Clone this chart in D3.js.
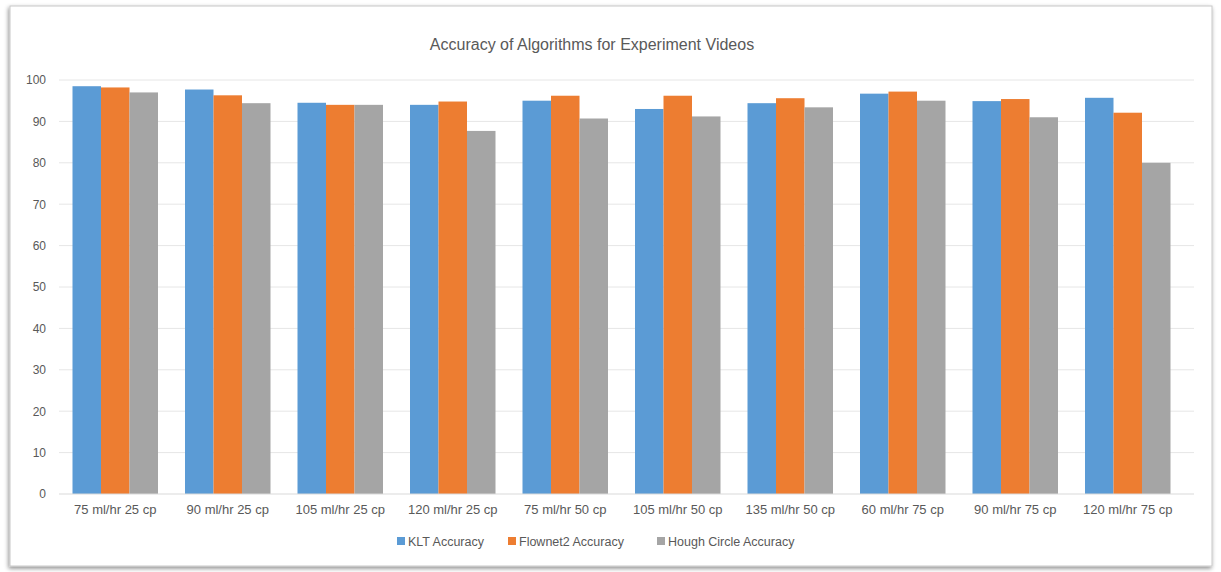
<!DOCTYPE html>
<html>
<head>
<meta charset="utf-8">
<script src="https://cdn.jsdelivr.net/npm/d3@7"></script>
<style>
  body { margin: 0; background: #ffffff; }
  svg text { font-family: "Liberation Sans", Arial, sans-serif; }
</style>
</head>
<body>
<svg id="chart" width="1221" height="572"></svg>
<script>
// Data
const categories = [
  "75 ml/hr 25 cp", "90 ml/hr 25 cp", "105 ml/hr 25 cp", "120 ml/hr 25 cp",
  "75 ml/hr 50 cp", "105 ml/hr 50 cp", "135 ml/hr 50 cp", "60 ml/hr 75 cp",
  "90 ml/hr 75 cp", "120 ml/hr 75 cp"
];
const seriesNames = ["KLT Accuracy", "Flownet2 Accuracy", "Hough Circle Accuracy"];
const kltValues      = [98.5, 97.7, 94.5, 94.0, 95.0, 93.0, 94.4, 96.7, 94.9, 95.7];
const flownetValues  = [98.2, 96.3, 94.0, 94.8, 96.2, 96.2, 95.6, 97.2, 95.4, 92.1];
const houghValues    = [97.0, 94.4, 94.0, 87.7, 90.7, 91.2, 93.4, 95.0, 91.0, 80.0];
const yTicks = [0, 10, 20, 30, 40, 50, 60, 70, 80, 90, 100];

const colors = ["#5b9bd5", "#ed7d31", "#a5a5a5"];
const allSeries = [kltValues, flownetValues, houghValues];

const svg = d3.select("#chart");

// frame with soft shadow
const defs = svg.append("defs");
const f = defs.append("filter").attr("id", "shadow")
  .attr("x", "-5%").attr("y", "-5%").attr("width", "110%").attr("height", "110%");
f.append("feDropShadow").attr("dx", -1).attr("dy", 2).attr("stdDeviation", 2)
  .attr("flood-color", "#000").attr("flood-opacity", 0.45);

svg.append("rect")
  .attr("x", 10).attr("y", 6).attr("width", 1202).attr("height", 560)
  .attr("fill", "#fff").attr("stroke", "#c8c8c8").attr("stroke-width", 1)
  .attr("filter", "url(#shadow)");

// plot area
const plotLeft = 59, plotRight = 1194, gridRight = 1194, barsRight = 1184;
const plotTop = 80, plotBottom = 494;

const x0 = d3.scaleBand()
  .domain(categories)
  .range([plotLeft, barsRight])
  .paddingInner(0.24)
  .paddingOuter(0.12);

const x1 = d3.scaleBand()
  .domain(d3.range(seriesNames.length))
  .range([0, x0.bandwidth()]);

const y = d3.scaleLinear()
  .domain([0, 100])
  .range([plotBottom, plotTop]);

// gridlines
svg.append("g")
  .selectAll("line")
  .data(yTicks.filter(d => d > 0))
  .enter().append("line")
    .attr("x1", plotLeft).attr("x2", gridRight)
    .attr("y1", d => y(d)).attr("y2", d => y(d))
    .attr("stroke", "#e6e6e6").attr("stroke-width", 1);

// y axis labels
const yAxis = svg.append("g")
  .attr("transform", `translate(${plotLeft - 13},0)`)
  .call(d3.axisLeft(y).tickValues(yTicks).tickSize(0).tickPadding(0));
yAxis.select(".domain").remove();
yAxis.selectAll("text").attr("fill", "#595959").style("font-size", "12px");

// bars
const groups = svg.append("g")
  .selectAll("g")
  .data(categories)
  .enter().append("g")
    .attr("transform", d => `translate(${x0(d)},0)`);

groups.selectAll("rect")
  .data((d, i) => allSeries.map((s, k) => ({ k: k, v: s[i] })))
  .enter().append("rect")
    .attr("x", d => x1(d.k))
    .attr("width", x1.bandwidth())
    .attr("y", d => y(d.v))
    .attr("height", d => y(0) - y(d.v))
    .attr("fill", d => colors[d.k]);

// x axis
const xAxis = svg.append("g")
  .attr("transform", `translate(0,${y(0)})`)
  .call(d3.axisBottom(x0).tickSize(0).tickPadding(11));
xAxis.select(".domain").remove();
xAxis.append("line")
  .attr("x1", plotLeft).attr("x2", plotRight)
  .attr("stroke", "#d9d9d9");
xAxis.selectAll("text").attr("fill", "#595959").style("font-size", "13px");

// title
svg.append("text")
  .attr("x", 592).attr("y", 50)
  .attr("text-anchor", "middle")
  .attr("fill", "#595959")
  .style("font-size", "16px")
  .text("Accuracy of Algorithms for Experiment Videos");

// legend
const legendX = [397, 508, 657];
const legend = svg.append("g")
  .selectAll("g")
  .data(seriesNames)
  .enter().append("g")
    .attr("transform", (d, i) => `translate(${legendX[i]},541)`);
legend.append("rect")
  .attr("x", 0).attr("y", -4).attr("width", 8).attr("height", 8)
  .attr("fill", (d, i) => colors[i]);
legend.append("text")
  .attr("x", 11).attr("y", 4.5)
  .attr("fill", "#595959")
  .style("font-size", "12.5px")
  .text(d => d);
</script>
</body>
</html>
